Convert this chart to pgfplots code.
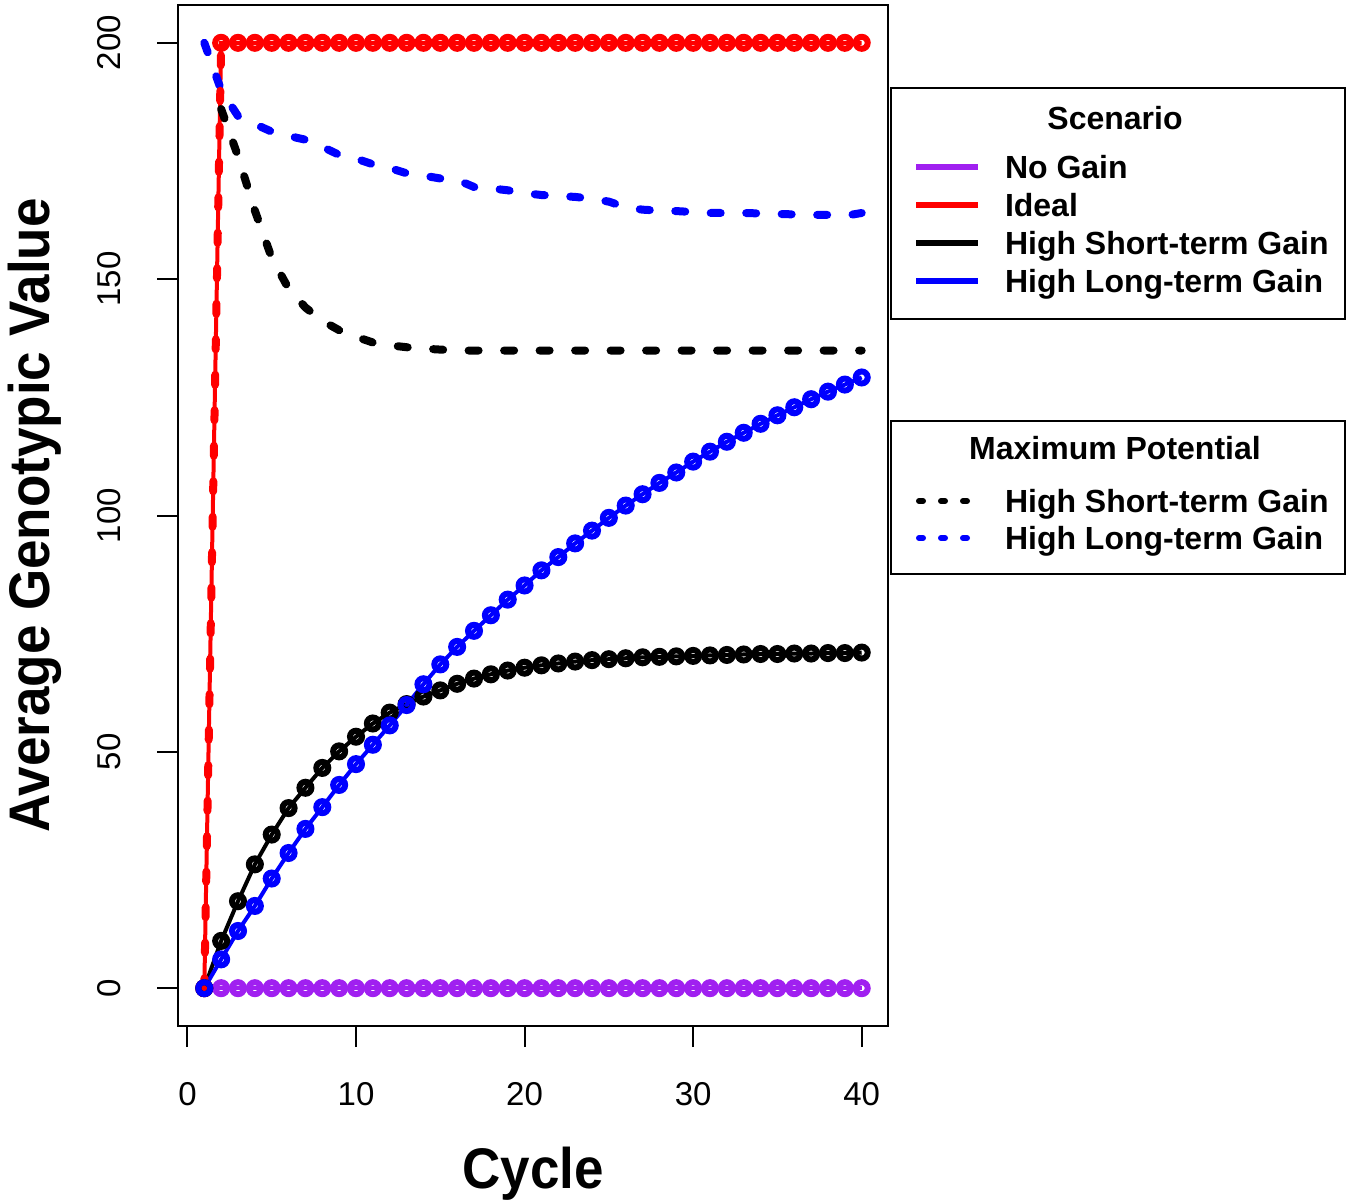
\documentclass[border=0pt]{standalone}
\usepackage{fontspec}
\setmainfont{Liberation Sans}
\usepackage{pgfplots}
\usepackage{pgfplotstable}
\pgfplotsset{compat=1.18}
\definecolor{ngpurple}{HTML}{A020F0}
\definecolor{rred}{HTML}{FF0000}
\definecolor{rblue}{HTML}{0000FF}
\newcommand\tickfont{\fontsize{16.5}{19}\selectfont}
\newcommand\labfont{\fontsize{26.5}{30}\selectfont\bfseries}
\newcommand\legfont{\fontsize{16}{19}\selectfont\bfseries}
\newcommand\legline[1]{\addlegendimage{legend image code/.code={\path[draw=none,fill=none] (0pt,0pt) rectangle (45pt,5.75pt);\draw[#1] (12.5pt,5.75pt)--(43.5pt,5.75pt);}}}
\newcommand\legdots[1]{\addlegendimage{legend image code/.code={\path[draw=none,fill=none] (0pt,0pt) rectangle (45pt,5.75pt);\draw[#1] (14pt,5.75pt)--(38pt,5.75pt);}}}

\pgfplotstableread{
c nogain ideal hstg hltg
1  0 0   0    0
2  0 200 10.0 6.1
3  0 200 18.4 12.1
4  0 200 26.2 17.4
5  0 200 32.5 23.2
6  0 200 38.1 28.6
7  0 200 42.4 33.7
8  0 200 46.6 38.3
9  0 200 50.1 43.0
10 0 200 53.2 47.4
11 0 200 56.0 51.5
12 0 200 58.3 55.6
13 0 200 60.1 59.9
14 0 200 61.7 64.3
15 0 200 63.0 68.5
16 0 200 64.4 72.2
17 0 200 65.5 75.6
18 0 200 66.4 78.9
19 0 200 67.2 82.2
20 0 200 67.8 85.2
21 0 200 68.3 88.4
22 0 200 68.7 91.2
23 0 200 69.1 94.1
24 0 200 69.4 96.8
25 0 200 69.6 99.5
26 0 200 69.8 102.1
27 0 200 70.0 104.5
28 0 200 70.1 106.9
29 0 200 70.2 109.1
30 0 200 70.3 111.4
31 0 200 70.4 113.5
32 0 200 70.5 115.6
33 0 200 70.6 117.5
34 0 200 70.7 119.4
35 0 200 70.7 121.2
36 0 200 70.8 122.9
37 0 200 70.8 124.6
38 0 200 70.9 126.2
39 0 200 70.9 127.7
40 0 200 71.0 129.2
}\scen

\pgfplotstableread{
c v
2  186
3  176
4  164.5
5  154.5
6  148
7  144
8  141.2
9  139.2
10 137.8
11 136.6
12 136.0
13 135.6
14 135.3
15 135.1
16 134.9
17 134.9
18 134.9
19 134.9
20 134.9
21 134.9
22 134.9
23 134.9
24 134.9
25 134.9
26 134.9
27 134.9
28 134.9
29 134.9
30 134.9
31 134.9
32 134.9
33 134.9
34 134.9
35 134.9
36 134.9
37 134.9
38 134.9
39 134.9
40 134.9
}\maxshort

\pgfplotstableread{
c v
1  200
2  190
3  184.5
4  182.8
5  181.2
6  180.3
7  179.5
8  178
9  176.3
10 175.5
11 174.3
12 173.5
13 172.4
14 171.9
15 171.3
16 171.0
17 169.5
18 169.2
19 168.8
20 168.2
21 167.8
22 167.6
23 167.4
24 167.0
25 166.4
26 165.2
27 164.7
28 164.5
29 164.4
30 164.2
31 164.0
32 164.0
33 164.0
34 163.9
35 163.8
36 163.7
37 163.6
38 163.6
39 163.4
40 164.0
}\maxlong

\pgfplotstableread{
c v
1 0
2 200
}\maxideal

\begin{document}
\begin{tikzpicture}
\useasboundingbox (0,0) rectangle (675pt,600.5pt);
\begin{axis}[
  at={(89pt,87.5pt)}, anchor=south west,
  scale only axis, width=355pt, height=510.5pt,
  xmin=-0.56, xmax=41.56, ymin=-8, ymax=208,
  xtick={0,10,20,30,40}, ytick={0,50,100,150,200},
  xtick pos=lower, ytick pos=left,
  tick align=outside, major tick length=10.5pt,
  every tick/.style={black, line width=1pt},
  axis line style={line width=1pt},
  tick label style={font=\tickfont},
  /pgf/number format/assume math mode=true,
  xticklabel style={anchor=north, inner sep=0pt},
  yticklabel style={rotate=90, anchor=south, inner sep=0pt},
  xticklabel shift=17.5pt, yticklabel shift=18pt,
  xlabel={\scalebox{1}[1.08]{Cycle}}, ylabel={\scalebox{1}[1.08]{Average Genotypic Value}},
  xlabel style={at={(axis description cs:0.5,-0.1587)}, anchor=base, inner sep=0pt, font=\labfont},
  ylabel style={at={(axis description cs:-0.1803,0.5)}, anchor=base, inner sep=0pt, font=\labfont},
  solidmk/.style={line width=2pt, mark=o, mark size=3pt, mark options={line width=3pt, solid}},
  maxdash/.style={line width=4pt, dash pattern=on 5pt off 12.75pt, line cap=round, no marks},
  legend style={at={(axis description cs:1.0028,0.9197)}, anchor=north west, draw=black, line width=1pt,
    inner sep=0pt, row sep=0pt, column sep=12pt, nodes={inner sep=0pt, text depth=}, cells={anchor=base west}, font=\legfont},
]
\addplot[solidmk, ngpurple, forget plot] table[x=c, y=nogain] {\scen};
\addplot[solidmk, rred, forget plot] table[x=c, y=ideal] {\scen};
\addplot[solidmk, black, forget plot] table[x=c, y=hstg] {\scen};
\addplot[solidmk, rblue, forget plot] table[x=c, y=hltg] {\scen};
\addplot[maxdash, black, forget plot] table[x=c, y=v] {\maxshort};
\addplot[maxdash, rblue, forget plot] table[x=c, y=v] {\maxlong};
\addplot[maxdash, rred, forget plot] table[x=c, y=v] {\maxideal};

\addlegendimage{empty legend}
\addlegendentry{\makebox[110pt][c]{Scenario}\rule[-12.5pt]{0pt}{33.25pt}}
\legline{line width=3pt, ngpurple}
\addlegendentry{\makebox[170pt][l]{No Gain}\rule[-7pt]{0pt}{19pt}}
\legline{line width=3pt, rred}
\addlegendentry{\makebox[170pt][l]{Ideal}\rule[-7pt]{0pt}{19pt}}
\legline{line width=3pt, black}
\addlegendentry{\makebox[170pt][l]{High Short-term Gain}\rule[-7pt]{0pt}{19pt}}
\legline{line width=3pt, rblue}
\addlegendentry{\makebox[170pt][l]{High Long-term Gain}\rule[-13.25pt]{0pt}{25.25pt}}
\end{axis}

\begin{axis}[
  at={(89pt,87.5pt)}, anchor=south west,
  scale only axis, width=355pt, height=510.5pt,
  xmin=0, xmax=1, ymin=0, ymax=1, hide axis,
  legend style={at={(axis description cs:1.0028,0.5935)}, anchor=north west, draw=black, line width=1pt,
    inner sep=0pt, row sep=0pt, column sep=12pt, nodes={inner sep=0pt, text depth=}, cells={anchor=base west}, font=\legfont},
]
\addlegendimage{empty legend}
\addlegendentry{\makebox[110pt][c]{Maximum Potential}\rule[-14.5pt]{0pt}{33.75pt}}
\legdots{line width=3pt, black, line cap=round, dash pattern=on 2pt off 9pt}
\addlegendentry{\makebox[170pt][l]{High Short-term Gain}\rule[-6.5pt]{0pt}{18.5pt}}
\legdots{line width=3pt, rblue, line cap=round, dash pattern=on 2pt off 9pt}
\addlegendentry{\makebox[170pt][l]{High Long-term Gain}\rule[-12.25pt]{0pt}{24.25pt}}
\end{axis}
\end{tikzpicture}
\end{document}
